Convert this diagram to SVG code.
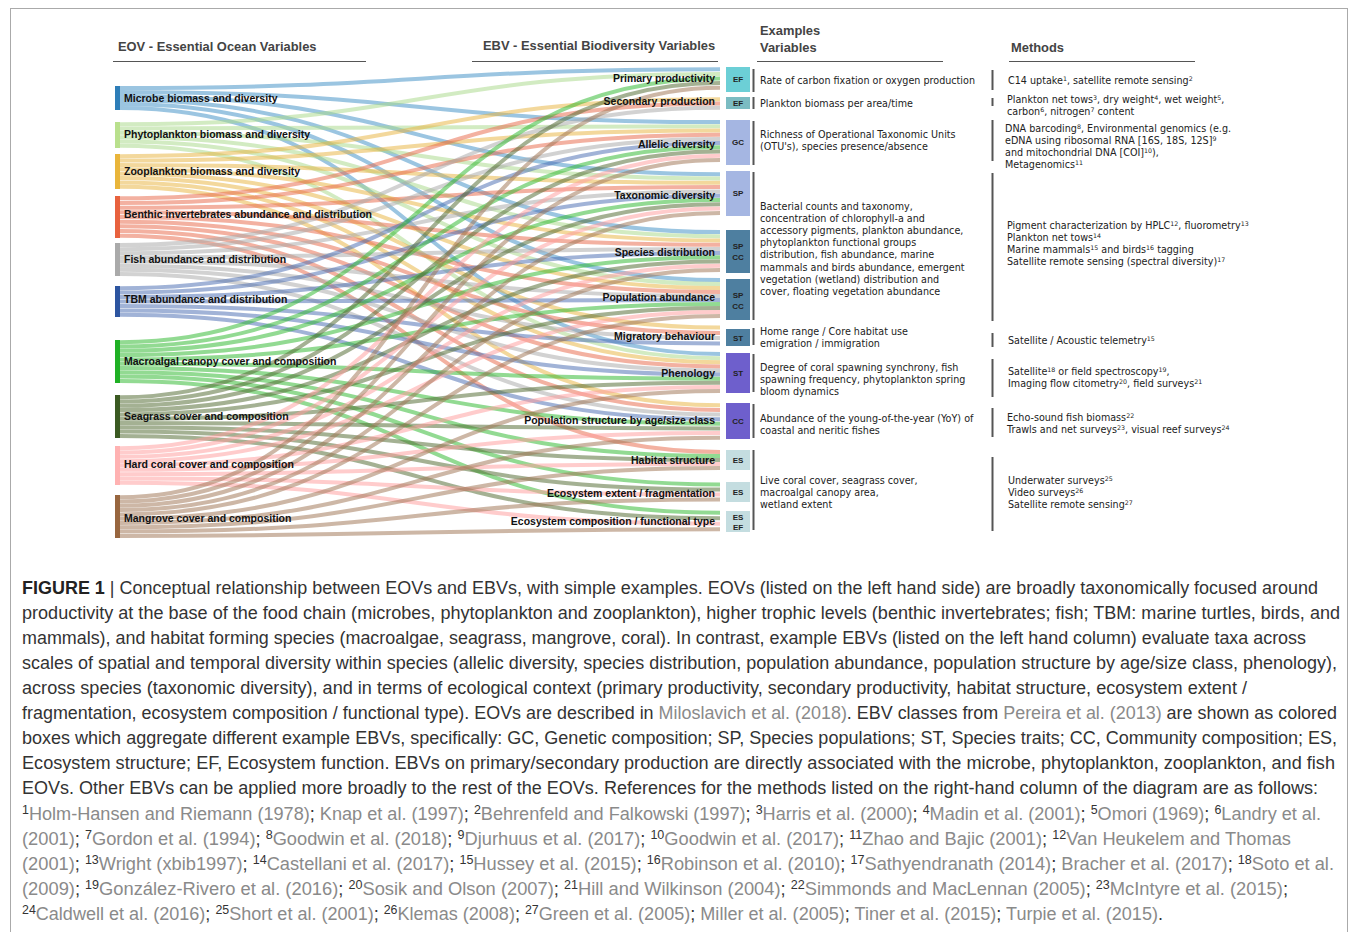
<svg xmlns="http://www.w3.org/2000/svg" width="1358" height="932" viewBox="0 0 1358 932">
<style>
.fl path{fill:none;stroke-width:4;stroke-opacity:0.52}
.m{stroke:#3f8fc6}.p{stroke:#a8d98a}.z{stroke:#e8b441}.b{stroke:#e8694a}.f{stroke:#a9a9a9}.t{stroke:#4a6db3}.ma{stroke:#2eb82e}.sg{stroke:#51692f}.hc{stroke:#ff9e9e}.mg{stroke:#a07555}
.hd{font-family:"Liberation Sans",Arial,sans-serif;font-weight:bold;font-size:12.9px;fill:#444}
.nl{font-family:"Liberation Sans",Arial,sans-serif;font-weight:bold;font-size:10.5px;fill:#111}
.el{font-family:"Liberation Sans",Arial,sans-serif;font-weight:bold;font-size:10.5px;fill:#111;text-anchor:end}
.bx{font-family:"Liberation Sans",Arial,sans-serif;font-weight:bold;font-size:8px;fill:#222;text-anchor:middle}
.ex{font-family:"DejaVu Sans",Verdana,sans-serif;font-size:9.6px;fill:#222}
.sup{font-size:6.3px}
.cap{font-family:"Liberation Sans",Arial,sans-serif;font-size:17.5px;fill:#333}
.ref{fill:#8a8a8a}
.cs{font-size:12px}
.ul{stroke:#555;stroke-width:1}
.sep{stroke:#555;stroke-width:2}
</style>
<rect x="10.5" y="8.5" width="1337" height="940" fill="#fff" stroke="#aaa"/>

<g id="headers">
<text class="hd" x="118" y="51">EOV - Essential Ocean Variables</text>
<text class="hd" x="483" y="50">EBV - Essential Biodiversity Variables</text>
<text class="hd" x="760" y="35">Examples</text>
<text class="hd" x="760" y="52">Variables</text>
<text class="hd" x="1011" y="52">Methods</text>
<line class="ul" x1="113" y1="61.5" x2="366" y2="61.5"/>
<line class="ul" x1="472" y1="61.5" x2="718" y2="61.5"/>
<line class="ul" x1="757" y1="61.5" x2="943" y2="61.5"/>
<line class="ul" x1="1009" y1="61.5" x2="1195" y2="61.5"/>
</g>

<g id="connectors" class="fl">
<g class="m">
<path d="M120 88C420 88 420 69.3 720 69.3"/>
<path d="M120 92C420 92 420 122.1 720 122.1"/>
<path d="M120 96C420 96 420 174.2 720 174.2"/>
<path d="M120 100C420 100 420 232.1 720 232.1"/>
<path d="M120 104C420 104 420 280 720 280"/>
<path d="M120 108C420 108 420 354 720 354"/>
</g>
<g class="p">
<path d="M120 124.2C420 124.2 420 73.9 720 73.9"/>
<path d="M120 128.5C420 128.5 420 126.3 720 126.3"/>
<path d="M120 132.8C420 132.8 420 178.5 720 178.5"/>
<path d="M120 137.2C420 137.2 420 236.3 720 236.3"/>
<path d="M120 141.5C420 141.5 420 284 720 284"/>
<path d="M120 145.8C420 145.8 420 358.2 720 358.2"/>
</g>
<g class="z">
<path d="M120 156.2C420 156.2 420 99.2 720 99.2"/>
<path d="M120 160.6C420 160.6 420 130.5 720 130.5"/>
<path d="M120 165C420 165 420 182.8 720 182.8"/>
<path d="M120 169.3C420 169.3 420 240.5 720 240.5"/>
<path d="M120 173.7C420 173.7 420 288 720 288"/>
<path d="M120 178.1C420 178.1 420 327.6 720 327.6"/>
<path d="M120 182.4C420 182.4 420 362.3 720 362.3"/>
<path d="M120 186.8C420 186.8 420 405.3 720 405.3"/>
</g>
<g class="b">
<path d="M120 198.3C420 198.3 420 103.5 720 103.5"/>
<path d="M120 203C420 203 420 134.7 720 134.7"/>
<path d="M120 207.7C420 207.7 420 187.1 720 187.1"/>
<path d="M120 212.3C420 212.3 420 244.7 720 244.7"/>
<path d="M120 217C420 217 420 292 720 292"/>
<path d="M120 221.7C420 221.7 420 332.9 720 332.9"/>
<path d="M120 226.3C420 226.3 420 366.4 720 366.4"/>
<path d="M120 231C420 231 420 409.9 720 409.9"/>
<path d="M120 235.7C420 235.7 420 452 720 452"/>
</g>
<g class="f">
<path d="M120 245.1C420 245.1 420 107.8 720 107.8"/>
<path d="M120 249.2C420 249.2 420 138.9 720 138.9"/>
<path d="M120 253.3C420 253.3 420 191.4 720 191.4"/>
<path d="M120 257.4C420 257.4 420 248.9 720 248.9"/>
<path d="M120 261.6C420 261.6 420 296 720 296"/>
<path d="M120 265.7C420 265.7 420 338.1 720 338.1"/>
<path d="M120 269.8C420 269.8 420 370.5 720 370.5"/>
<path d="M120 273.9C420 273.9 420 414.6 720 414.6"/>
</g>
<g class="t">
<path d="M120 288.2C420 288.2 420 143.1 720 143.1"/>
<path d="M120 292.6C420 292.6 420 195.7 720 195.7"/>
<path d="M120 297.1C420 297.1 420 253.1 720 253.1"/>
<path d="M120 301.5C420 301.5 420 300 720 300"/>
<path d="M120 305.9C420 305.9 420 343.4 720 343.4"/>
<path d="M120 310.4C420 310.4 420 374.6 720 374.6"/>
<path d="M120 314.8C420 314.8 420 419.2 720 419.2"/>
</g>
<g class="ma">
<path d="M120 342.2C420 342.2 420 78.5 720 78.5"/>
<path d="M120 346.5C420 346.5 420 147.3 720 147.3"/>
<path d="M120 350.8C420 350.8 420 200 720 200"/>
<path d="M120 355.1C420 355.1 420 257.3 720 257.3"/>
<path d="M120 359.4C420 359.4 420 304 720 304"/>
<path d="M120 363.7C420 363.7 420 378.7 720 378.7"/>
<path d="M120 368C420 368 420 423.8 720 423.8"/>
<path d="M120 372.3C420 372.3 420 456 720 456"/>
<path d="M120 376.6C420 376.6 420 484.5 720 484.5"/>
<path d="M120 380.9C420 380.9 420 512.75 720 512.75"/>
</g>
<g class="sg">
<path d="M120 397.2C420 397.2 420 83.1 720 83.1"/>
<path d="M120 401.5C420 401.5 420 151.5 720 151.5"/>
<path d="M120 405.8C420 405.8 420 204.3 720 204.3"/>
<path d="M120 410.1C420 410.1 420 261.5 720 261.5"/>
<path d="M120 414.4C420 414.4 420 308 720 308"/>
<path d="M120 418.7C420 418.7 420 382.8 720 382.8"/>
<path d="M120 423C420 423 420 428.4 720 428.4"/>
<path d="M120 427.3C420 427.3 420 460 720 460"/>
<path d="M120 431.6C420 431.6 420 489.5 720 489.5"/>
<path d="M120 435.9C420 435.9 420 518.25 720 518.25"/>
</g>
<g class="hc">
<path d="M120 448.2C420 448.2 420 155.7 720 155.7"/>
<path d="M120 452.5C420 452.5 420 208.6 720 208.6"/>
<path d="M120 456.8C420 456.8 420 265.7 720 265.7"/>
<path d="M120 461.2C420 461.2 420 312 720 312"/>
<path d="M120 465.5C420 465.5 420 386.9 720 386.9"/>
<path d="M120 469.8C420 469.8 420 433.1 720 433.1"/>
<path d="M120 474.2C420 474.2 420 464 720 464"/>
<path d="M120 478.5C420 478.5 420 494.5 720 494.5"/>
<path d="M120 482.8C420 482.8 420 523.75 720 523.75"/>
</g>
<g class="mg">
<path d="M120 497.2C420 497.2 420 87.7 720 87.7"/>
<path d="M120 501.5C420 501.5 420 159.9 720 159.9"/>
<path d="M120 505.8C420 505.8 420 212.9 720 212.9"/>
<path d="M120 510.1C420 510.1 420 269.9 720 269.9"/>
<path d="M120 514.4C420 514.4 420 316 720 316"/>
<path d="M120 518.7C420 518.7 420 391 720 391"/>
<path d="M120 523C420 523 420 437.7 720 437.7"/>
<path d="M120 527.3C420 527.3 420 468 720 468"/>
<path d="M120 531.6C420 531.6 420 499.5 720 499.5"/>
<path d="M120 535.9C420 535.9 420 529.25 720 529.25"/>
</g>
</g>

<g id="eov-microbe"><rect x="115" y="86" width="5" height="24" fill="#2e7eb8"/><text class="nl" x="124" y="102">Microbe biomass and diversity</text></g>
<g id="eov-phyto"><rect x="115" y="122" width="5" height="26" fill="#b9e08d"/><text class="nl" x="124" y="138">Phytoplankton biomass and diversity</text></g>
<g id="eov-zoo"><rect x="115" y="154" width="5" height="35" fill="#e9b53b"/><text class="nl" x="124" y="175">Zooplankton biomass and diversity</text></g>
<g id="eov-benthic"><rect x="115" y="196" width="5" height="42" fill="#e8623e"/><text class="nl" x="124" y="218">Benthic invertebrates abundance and distribution</text></g>
<g id="eov-fish"><rect x="115" y="243" width="5" height="33" fill="#aaaaaa"/><text class="nl" x="124" y="263">Fish abundance and distribution</text></g>
<g id="eov-tbm"><rect x="115" y="286" width="5" height="31" fill="#2d55a0"/><text class="nl" x="124" y="303">TBM abundance and distribution</text></g>
<g id="eov-macroalgal"><rect x="115" y="340" width="5" height="43" fill="#1fb024"/><text class="nl" x="124" y="365">Macroalgal canopy cover and composition</text></g>
<g id="eov-seagrass"><rect x="115" y="395" width="5" height="43" fill="#3b5a22"/><text class="nl" x="124" y="420">Seagrass cover and composition</text></g>
<g id="eov-coral"><rect x="115" y="446" width="5" height="39" fill="#ffb2b2"/><text class="nl" x="124" y="468">Hard coral cover and composition</text></g>
<g id="eov-mangrove"><rect x="115" y="495" width="5" height="43" fill="#98663f"/><text class="nl" x="124" y="522">Mangrove cover and composition</text></g>

<g id="ebv-pp"><text class="el" x="715" y="82">Primary productivity</text><rect x="726" y="67" width="24" height="25" fill="#6ccfd6"/><text class="bx" x="738" y="82">EF</text></g>
<g id="ebv-sp"><text class="el" x="715" y="105">Secondary production</text><rect x="726" y="97" width="24" height="12" fill="#7bbcc2"/><text class="bx" x="738" y="106">EF</text></g>
<g id="ebv-ad"><text class="el" x="715" y="148">Allelic diversity</text><rect x="726" y="120" width="24" height="45" fill="#a5b6e2"/><text class="bx" x="738" y="145">GC</text></g>
<g id="ebv-td"><text class="el" x="715" y="199">Taxonomic diversity</text><rect x="726" y="171" width="24" height="45" fill="#a5b6e2"/><text class="bx" x="738" y="196">SP</text></g>
<g id="ebv-sd"><text class="el" x="715" y="256">Species distribution</text><rect x="726" y="230" width="24" height="43" fill="#4e7fa0"/><text class="bx" x="738" y="249">SP</text><text class="bx" x="738" y="260">CC</text></g>
<g id="ebv-pa"><text class="el" x="715" y="301">Population abundance</text><rect x="726" y="279" width="24" height="41" fill="#4e7fa0"/><text class="bx" x="738" y="298">SP</text><text class="bx" x="738" y="309">CC</text></g>
<g id="ebv-mb"><text class="el" x="715" y="340">Migratory behaviour</text><rect x="726" y="329" width="24" height="17" fill="#4e7fa0"/><text class="bx" x="738" y="340.5">ST</text></g>
<g id="ebv-ph"><text class="el" x="715" y="377">Phenology</text><rect x="726" y="353" width="24" height="40" fill="#6e5fcc"/><text class="bx" x="738" y="376">ST</text></g>
<g id="ebv-ps"><text class="el" x="715" y="424">Population structure by age/size class</text><rect x="726" y="403" width="24" height="36" fill="#6e5fcc"/><text class="bx" x="738" y="424">CC</text></g>
<g id="ebv-hs"><text class="el" x="715" y="464">Habitat structure</text><rect x="726" y="450" width="24" height="20" fill="#c4dde0"/><text class="bx" x="738" y="463">ES</text></g>
<g id="ebv-ee"><text class="el" x="715" y="497">Ecosystem extent / fragmentation</text><rect x="726" y="482" width="24" height="20" fill="#c4dde0"/><text class="bx" x="738" y="495">ES</text></g>
<g id="ebv-ec"><text class="el" x="715" y="525">Ecosystem composition / functional type</text><rect x="726" y="511" width="24" height="21" fill="#c4dde0"/><text class="bx" x="738" y="520">ES</text><text class="bx" x="738" y="530">EF</text></g>

<g id="separators">
<line class="sep" x1="753.5" y1="69" x2="753.5" y2="92"/>
<line class="sep" x1="753.5" y1="97" x2="753.5" y2="109"/>
<line class="sep" x1="753.5" y1="121" x2="753.5" y2="165"/>
<line class="sep" x1="753.5" y1="172" x2="753.5" y2="320"/>
<line class="sep" x1="753.5" y1="328" x2="753.5" y2="345"/>
<line class="sep" x1="753.5" y1="354" x2="753.5" y2="392"/>
<line class="sep" x1="753.5" y1="404" x2="753.5" y2="438"/>
<line class="sep" x1="753.5" y1="450" x2="753.5" y2="530"/>
<line class="sep" x1="992.5" y1="70" x2="992.5" y2="90"/>
<line class="sep" x1="992.5" y1="98" x2="992.5" y2="106"/>
<line class="sep" x1="992.5" y1="120" x2="992.5" y2="161"/>
<line class="sep" x1="992.5" y1="173" x2="992.5" y2="321"/>
<line class="sep" x1="992.5" y1="333" x2="992.5" y2="347"/>
<line class="sep" x1="992.5" y1="359" x2="992.5" y2="397"/>
<line class="sep" x1="992.5" y1="408" x2="992.5" y2="437"/>
<line class="sep" x1="992.5" y1="457" x2="992.5" y2="531"/>
</g>

<g id="examples">
<text class="ex" x="760" y="84">Rate of carbon fixation or oxygen production</text>
<text class="ex" x="760" y="107">Plankton biomass per area/time</text>
<text class="ex" x="760" y="138">Richness of Operational Taxonomic Units</text>
<text class="ex" x="760" y="150">(OTU's), species presence/absence</text>
<text class="ex" x="760" y="210">Bacterial counts and taxonomy,</text>
<text class="ex" x="760" y="222">concentration of chlorophyll-a and</text>
<text class="ex" x="760" y="234">accessory pigments, plankton abundance,</text>
<text class="ex" x="760" y="246">phytoplankton functional groups</text>
<text class="ex" x="760" y="258">distribution, fish abundance, marine</text>
<text class="ex" x="760" y="270.5">mammals and birds abundance, emergent</text>
<text class="ex" x="760" y="282.5">vegetation (wetland) distribution and</text>
<text class="ex" x="760" y="294.5">cover, floating vegetation abundance</text>
<text class="ex" x="760" y="335">Home range / Core habitat use</text>
<text class="ex" x="760" y="347">emigration / immigration</text>
<text class="ex" x="760" y="371">Degree of coral spawning synchrony, fish</text>
<text class="ex" x="760" y="383">spawning frequency, phytoplankton spring</text>
<text class="ex" x="760" y="395">bloom dynamics</text>
<text class="ex" x="760" y="422">Abundance of the young-of-the-year (YoY) of</text>
<text class="ex" x="760" y="434">coastal and neritic fishes</text>
<text class="ex" x="760" y="484">Live coral cover, seagrass cover,</text>
<text class="ex" x="760" y="496">macroalgal canopy area,</text>
<text class="ex" x="760" y="508">wetland extent</text>
</g>

<g id="methods">
<text class="ex" x="1008" y="84">C14 uptake<tspan class="sup" dy="-3">1</tspan><tspan dy="3">, satellite remote sensing</tspan><tspan class="sup" dy="-3">2</tspan></text>
<text class="ex" x="1007" y="103">Plankton net tows<tspan class="sup" dy="-3">3</tspan><tspan dy="3">, dry weight</tspan><tspan class="sup" dy="-3">4</tspan><tspan dy="3">, wet weight</tspan><tspan class="sup" dy="-3">5</tspan><tspan dy="3">,</tspan></text>
<text class="ex" x="1007" y="115">carbon<tspan class="sup" dy="-3">6</tspan><tspan dy="3">, nitrogen</tspan><tspan class="sup" dy="-3">7</tspan><tspan dy="3"> content</tspan></text>
<text class="ex" x="1005" y="132">DNA barcoding<tspan class="sup" dy="-3">8</tspan><tspan dy="3">, Environmental genomics (e.g.</tspan></text>
<text class="ex" x="1005" y="144">eDNA using ribosomal RNA [16S, 18S, 12S]<tspan class="sup" dy="-3">9</tspan></text>
<text class="ex" x="1005" y="156">and mitochondrial DNA [COI]<tspan class="sup" dy="-3">10</tspan><tspan dy="3">),</tspan></text>
<text class="ex" x="1005" y="168">Metagenomics<tspan class="sup" dy="-3">11</tspan></text>
<text class="ex" x="1007" y="229">Pigment characterization by HPLC<tspan class="sup" dy="-3">12</tspan><tspan dy="3">, fluorometry</tspan><tspan class="sup" dy="-3">13</tspan></text>
<text class="ex" x="1007" y="241">Plankton net tows<tspan class="sup" dy="-3">14</tspan></text>
<text class="ex" x="1007" y="253">Marine mammals<tspan class="sup" dy="-3">15</tspan><tspan dy="3"> and birds</tspan><tspan class="sup" dy="-3">16</tspan><tspan dy="3"> tagging</tspan></text>
<text class="ex" x="1007" y="265">Satellite remote sensing (spectral diversity)<tspan class="sup" dy="-3">17</tspan></text>
<text class="ex" x="1008" y="344">Satellite / Acoustic telemetry<tspan class="sup" dy="-3">15</tspan></text>
<text class="ex" x="1008" y="375">Satellite<tspan class="sup" dy="-3">18</tspan><tspan dy="3"> or field spectroscopy</tspan><tspan class="sup" dy="-3">19</tspan><tspan dy="3">,</tspan></text>
<text class="ex" x="1008" y="387">Imaging flow citometry<tspan class="sup" dy="-3">20</tspan><tspan dy="3">, field surveys</tspan><tspan class="sup" dy="-3">21</tspan></text>
<text class="ex" x="1007" y="421">Echo-sound fish biomass<tspan class="sup" dy="-3">22</tspan></text>
<text class="ex" x="1007" y="433">Trawls and net surveys<tspan class="sup" dy="-3">23</tspan><tspan dy="3">, visual reef surveys</tspan><tspan class="sup" dy="-3">24</tspan></text>
<text class="ex" x="1008" y="484">Underwater surveys<tspan class="sup" dy="-3">25</tspan></text>
<text class="ex" x="1008" y="496">Video surveys<tspan class="sup" dy="-3">26</tspan></text>
<text class="ex" x="1008" y="508">Satellite remote sensing<tspan class="sup" dy="-3">27</tspan></text>
</g>

<g id="caption" class="cap">
<text x="22" y="594" textLength="1296" lengthAdjust="spacingAndGlyphs"><tspan font-weight="bold" fill="#222">FIGURE 1</tspan> | Conceptual relationship between EOVs and EBVs, with simple examples. EOVs (listed on the left hand side) are broadly taxonomically focused around</text>
<text x="22" y="619" textLength="1318" lengthAdjust="spacingAndGlyphs">productivity at the base of the food chain (microbes, phytoplankton and zooplankton), higher trophic levels (benthic invertebrates; fish; TBM: marine turtles, birds, and</text>
<text x="22" y="644" textLength="1284" lengthAdjust="spacingAndGlyphs">mammals), and habitat forming species (macroalgae, seagrass, mangrove, coral). In contrast, example EBVs (listed on the left hand column) evaluate taxa across</text>
<text x="22" y="669" textLength="1315" lengthAdjust="spacingAndGlyphs">scales of spatial and temporal diversity within species (allelic diversity, species distribution, population abundance, population structure by age/size class, phenology),</text>
<text x="22" y="694" textLength="1225" lengthAdjust="spacingAndGlyphs">across species (taxonomic diversity), and in terms of ecological context (primary productivity, secondary productivity, habitat structure, ecosystem extent /</text>
<text x="22" y="719" textLength="1315" lengthAdjust="spacingAndGlyphs">fragmentation, ecosystem composition / functional type). EOVs are described in <tspan class="ref">Miloslavich et al. (2018)</tspan>. EBV classes from <tspan class="ref">Pereira et al. (2013)</tspan> are shown as colored</text>
<text x="22" y="744" textLength="1315" lengthAdjust="spacingAndGlyphs">boxes which aggregate different example EBVs, specifically: GC, Genetic composition; SP, Species populations; ST, Species traits; CC, Community composition; ES,</text>
<text x="22" y="769" textLength="1313" lengthAdjust="spacingAndGlyphs">Ecosystem structure; EF, Ecosystem function. EBVs on primary/secondary production are directly associated with the microbe, phytoplankton, zooplankton, and fish</text>
<text x="22" y="794" textLength="1296" lengthAdjust="spacingAndGlyphs">EOVs. Other EBVs can be applied more broadly to the rest of the EOVs. References for the methods listed on the right-hand column of the diagram are as follows:</text>
<text x="22" y="820" textLength="1299" lengthAdjust="spacingAndGlyphs"><tspan class="cs" dy="-6">1</tspan><tspan class="ref" dy="6">Holm-Hansen and Riemann (1978)</tspan>; <tspan class="ref">Knap et al. (1997)</tspan>; <tspan class="cs" dy="-6">2</tspan><tspan class="ref" dy="6">Behrenfeld and Falkowski (1997)</tspan>; <tspan class="cs" dy="-6">3</tspan><tspan class="ref" dy="6">Harris et al. (2000)</tspan>; <tspan class="cs" dy="-6">4</tspan><tspan class="ref" dy="6">Madin et al. (2001)</tspan>; <tspan class="cs" dy="-6">5</tspan><tspan class="ref" dy="6">Omori (1969)</tspan>; <tspan class="cs" dy="-6">6</tspan><tspan class="ref" dy="6">Landry et al.</tspan></text>
<text x="22" y="845" textLength="1269" lengthAdjust="spacingAndGlyphs"><tspan class="ref">(2001)</tspan>; <tspan class="cs" dy="-6">7</tspan><tspan class="ref" dy="6">Gordon et al. (1994)</tspan>; <tspan class="cs" dy="-6">8</tspan><tspan class="ref" dy="6">Goodwin et al. (2018)</tspan>; <tspan class="cs" dy="-6">9</tspan><tspan class="ref" dy="6">Djurhuus et al. (2017)</tspan>; <tspan class="cs" dy="-6">10</tspan><tspan class="ref" dy="6">Goodwin et al. (2017)</tspan>; <tspan class="cs" dy="-6">11</tspan><tspan class="ref" dy="6">Zhao and Bajic (2001)</tspan>; <tspan class="cs" dy="-6">12</tspan><tspan class="ref" dy="6">Van Heukelem and Thomas</tspan></text>
<text x="22" y="870" textLength="1312" lengthAdjust="spacingAndGlyphs"><tspan class="ref">(2001)</tspan>; <tspan class="cs" dy="-6">13</tspan><tspan class="ref" dy="6">Wright (xbib1997)</tspan>; <tspan class="cs" dy="-6">14</tspan><tspan class="ref" dy="6">Castellani et al. (2017)</tspan>; <tspan class="cs" dy="-6">15</tspan><tspan class="ref" dy="6">Hussey et al. (2015)</tspan>; <tspan class="cs" dy="-6">16</tspan><tspan class="ref" dy="6">Robinson et al. (2010)</tspan>; <tspan class="cs" dy="-6">17</tspan><tspan class="ref" dy="6">Sathyendranath (2014)</tspan>; <tspan class="ref">Bracher et al. (2017)</tspan>; <tspan class="cs" dy="-6">18</tspan><tspan class="ref" dy="6">Soto et al.</tspan></text>
<text x="22" y="895" textLength="1266" lengthAdjust="spacingAndGlyphs"><tspan class="ref">(2009)</tspan>; <tspan class="cs" dy="-6">19</tspan><tspan class="ref" dy="6">González-Rivero et al. (2016)</tspan>; <tspan class="cs" dy="-6">20</tspan><tspan class="ref" dy="6">Sosik and Olson (2007)</tspan>; <tspan class="cs" dy="-6">21</tspan><tspan class="ref" dy="6">Hill and Wilkinson (2004)</tspan>; <tspan class="cs" dy="-6">22</tspan><tspan class="ref" dy="6">Simmonds and MacLennan (2005)</tspan>; <tspan class="cs" dy="-6">23</tspan><tspan class="ref" dy="6">McIntyre et al. (2015)</tspan>;</text>
<text x="22" y="920" textLength="1141" lengthAdjust="spacingAndGlyphs"><tspan class="cs" dy="-6">24</tspan><tspan class="ref" dy="6">Caldwell et al. (2016)</tspan>; <tspan class="cs" dy="-6">25</tspan><tspan class="ref" dy="6">Short et al. (2001)</tspan>; <tspan class="cs" dy="-6">26</tspan><tspan class="ref" dy="6">Klemas (2008)</tspan>; <tspan class="cs" dy="-6">27</tspan><tspan class="ref" dy="6">Green et al. (2005)</tspan>; <tspan class="ref">Miller et al. (2005)</tspan>; <tspan class="ref">Tiner et al. (2015)</tspan>; <tspan class="ref">Turpie et al. (2015)</tspan>.</text>
</g>
</svg>
